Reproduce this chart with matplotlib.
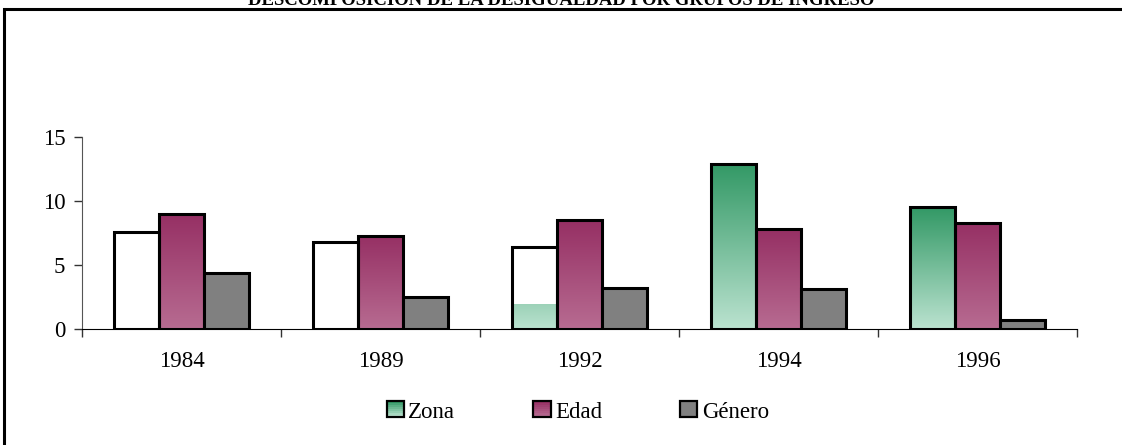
import numpy as np
import matplotlib.pyplot as plt
from matplotlib.patches import Rectangle
from matplotlib.legend_handler import HandlerBase
from matplotlib.colors import LinearSegmentedColormap

plt.rcParams["font.family"] = ["Liberation Serif", "DejaVu Serif"]

anios = ["1984", "1989", "1992", "1994", "1996"]
zona = [7.6, 6.8, 6.4, 12.9, 9.5]
zona_relleno = [0.0, 0.0, 1.9, 12.9, 9.5]   # altura con degradado verde
edad = [9.0, 7.3, 8.5, 7.8, 8.3]
genero = [4.4, 2.5, 3.2, 3.1, 0.7]
series = ["Zona", "Edad", "Género"]
titulo = "DESCOMPOSICIÓN DE LA DESIGUALDAD POR GRUPOS DE INGRESO"

verde = LinearSegmentedColormap.from_list("verde", ["#bae2cf", "#339966"])
morado = LinearSegmentedColormap.from_list("morado", ["#b76b91", "#963064"])
gris = "#808080"


def degradado(ax, x0, x1, y0, y1, cmap, f0=0.0, f1=1.0):
    grad = np.linspace(f0, f1, 64).reshape(-1, 1)
    ax.imshow(grad, extent=[x0, x1, y0, y1], origin="lower", aspect="auto",
              cmap=cmap, vmin=0, vmax=1, zorder=1, interpolation="bilinear")


class HandlerDegradado(HandlerBase):
    def __init__(self, cmap=None, color=None):
        super().__init__()
        self.cmap = cmap
        self.color = color

    def create_artists(self, legend, orig_handle, xd, yd, width, height, fontsize, trans):
        artistas = []
        if self.cmap is not None:
            n = 8
            for i in range(n):
                artistas.append(Rectangle((xd, yd + height * i / n), width, height / n,
                                          facecolor=self.cmap(i / (n - 1)), edgecolor="none",
                                          transform=trans))
            artistas.append(Rectangle((xd, yd), width, height, facecolor="none",
                                      edgecolor="black", lw=1.6, transform=trans))
        else:
            artistas.append(Rectangle((xd, yd), width, height, facecolor=self.color,
                                      edgecolor="black", lw=1.6, transform=trans))
        return artistas


fig = plt.figure(figsize=(11.22, 4.45), dpi=100)
ax = fig.add_axes([0.0731, 0.2607, 0.8869, 0.4315])

x = np.arange(len(anios))
ancho = 0.225

for i in range(len(anios)):
    xz = x[i] - ancho * 1.5
    if zona_relleno[i] > 0:
        if zona_relleno[i] >= zona[i]:
            degradado(ax, xz, xz + ancho, 0, zona[i], verde)
        else:
            degradado(ax, xz, xz + ancho, 0, zona_relleno[i], verde, 0.0, 0.22)
    xe = x[i] - ancho * 0.5
    degradado(ax, xe, xe + ancho, 0, edad[i], morado)

b1 = ax.bar(x - ancho, zona, ancho, facecolor="none", edgecolor="black", lw=2.2, zorder=2)
b2 = ax.bar(x, edad, ancho, facecolor="none", edgecolor="black", lw=2.2, zorder=2)
b3 = ax.bar(x + ancho, genero, ancho, facecolor=gris, edgecolor="black", lw=2.2, zorder=2)

ax.set_xlim(-0.5, len(anios) - 0.5)
ax.set_ylim(0, 15)
ax.set_yticks([0, 5, 10, 15])
ax.set_xticks(x)
ax.set_xticklabels(anios)
ax.set_xticks(np.arange(len(anios) + 1) - 0.5, minor=True)
ax.tick_params(axis="x", which="major", length=0, pad=16, labelsize=16.5)
ax.tick_params(axis="x", which="minor", length=6, width=1, color="#333333")
ax.tick_params(axis="y", length=6, width=1, color="#333333", labelsize=16.5, pad=6)
ax.spines["top"].set_visible(False)
ax.spines["right"].set_visible(False)
ax.spines["left"].set_color("#555555")
ax.spines["bottom"].set_color("black")

ax.legend([b1, b2, b3], series, ncol=3, frameon=False, fontsize=16.5,
          loc="center", bbox_to_anchor=(0.515, 1 - 412 / 445), bbox_transform=fig.transFigure,
          handler_map={b1: HandlerDegradado(cmap=verde), b2: HandlerDegradado(cmap=morado),
                       b3: HandlerDegradado(color=gris)},
          handlelength=0.75, handleheight=0.75, handletextpad=0.2, columnspacing=3.4)

# marco exterior (cortado por la derecha y abajo)
fig.patches.append(Rectangle((4 / 1122, -0.1), 1.2, 1 - 9 / 445 + 0.1, transform=fig.transFigure,
                             facecolor="none", edgecolor="black", lw=2.2))
fig.text(0.5, 1 - 5 / 445, titulo, ha="center", va="baseline", fontsize=13.5, fontweight="bold")

fig.savefig("out.png", dpi=100)
